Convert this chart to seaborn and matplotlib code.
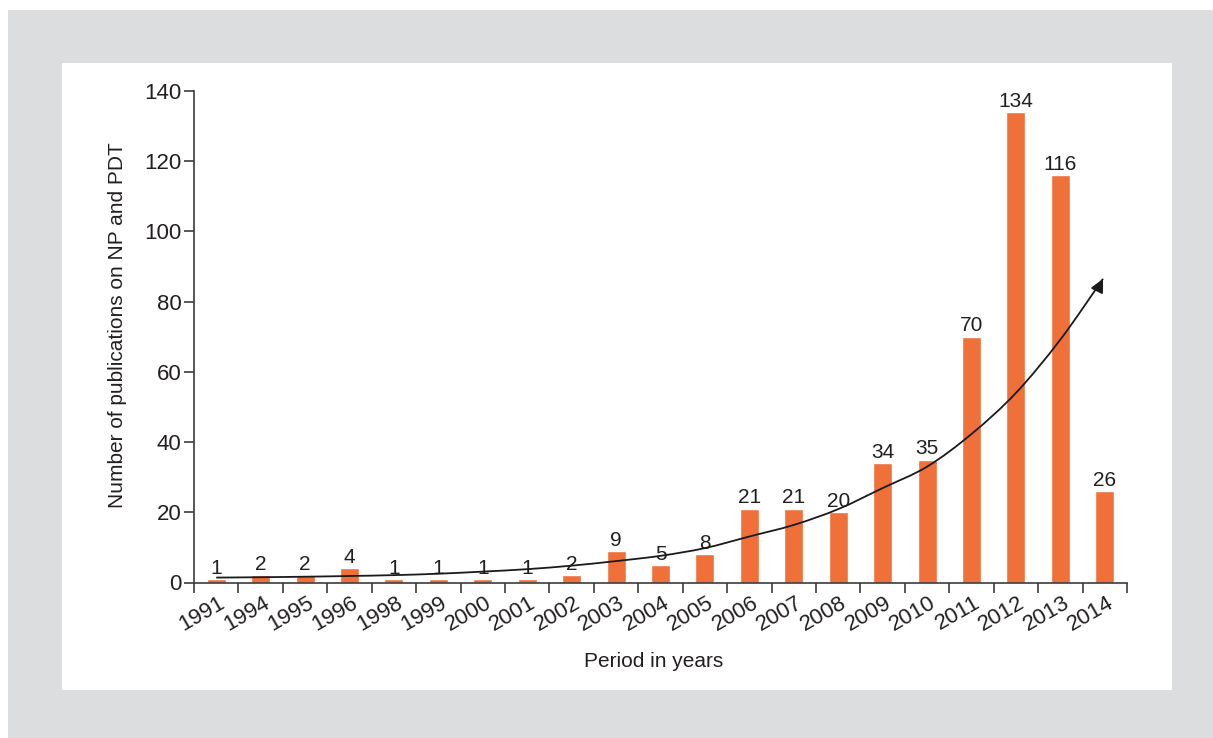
import matplotlib
matplotlib.use("Agg")
import matplotlib.pyplot as plt
import matplotlib.transforms as mtransforms
from matplotlib.patches import Rectangle, PathPatch
from matplotlib.path import Path
from matplotlib.ticker import FixedLocator, NullFormatter
import seaborn as sns
import pandas as pd

years = ["1991", "1994", "1995", "1996", "1998", "1999", "2000", "2001", "2002", "2003",
         "2004", "2005", "2006", "2007", "2008", "2009", "2010", "2011", "2012", "2013", "2014"]
counts = [1, 2, 2, 4, 1, 1, 1, 1, 2, 9, 5, 8, 21, 21, 20, 34, 35, 70, 134, 116, 26]

# hand-drawn trend arrow (x in category positions)
trend_x = [0, 1, 2, 3, 4, 5, 6, 7, 8, 9, 10, 11, 12, 13, 14, 15, 16, 17, 18, 19, 19.96]
trend_y = [1.4, 1.5, 1.65, 1.85, 2.1, 2.5, 3.1, 3.8, 4.8, 6.1, 7.6, 9.8, 13.1, 16.4,
           20.9, 26.9, 33.0, 42.3, 54.0, 69.2, 86.5]

y_ticks = [0, 20, 40, 60, 80, 100, 120, 140]

BAR = "#F0703A"
TXT = "#231F20"
AX = "#3C3C3C"
W, H = 1213, 738

sns.set_style("white")
plt.rcParams["font.family"] = ["Liberation Sans", "DejaVu Sans"]

fig = plt.figure(figsize=(W / 100, H / 100), dpi=100)
fig.patch.set_facecolor("white")
fig.add_artist(Rectangle((8 / W, 0), (W - 8) / W, (H - 10) / H,
                         transform=fig.transFigure, facecolor="#DCDDDF", edgecolor="none", zorder=-10))
fig.add_artist(Rectangle((62 / W, (H - 690) / H), (1172 - 62) / W, (690 - 63) / H,
                         transform=fig.transFigure, facecolor="white", edgecolor="none", zorder=-9))

ax = fig.add_axes([194 / W, (H - 582.5) / H, (1127 - 194) / W, (582.5 - 91) / H])
ax.patch.set_alpha(0)

df = pd.DataFrame({"year": years, "count": counts})
sns.barplot(data=df, x="year", y="count", order=years, color=BAR, width=0.43,
            saturation=1, ax=ax)

ax.bar_label(ax.containers[0], labels=[str(c) for c in counts], padding=1,
             fontsize=15, color=TXT)

ax.set_xlim(-0.5, len(years) - 0.5)
ax.set_ylim(0, 140)

# smooth curve through the read trend points (Catmull-Rom drawn as cubic Bezier, in display space)
pts = ax.transData.transform(list(zip(trend_x, trend_y)))
verts = [tuple(pts[0])]
codes = [Path.MOVETO]
n = len(pts)
for i in range(n - 1):
    p0 = pts[max(i - 1, 0)]
    p1 = pts[i]
    p2 = pts[i + 1]
    p3 = pts[min(i + 2, n - 1)]
    c1 = p1 + (p2 - p0) / 6.0
    c2 = p2 - (p3 - p1) / 6.0
    verts += [tuple(c1), tuple(c2), tuple(p2)]
    codes += [Path.CURVE4] * 3
curve = PathPatch(Path(verts, codes), transform=None, facecolor="none",
                  edgecolor="#1a1a1a", lw=1.3, zorder=5)
fig.add_artist(curve)
ax.annotate("", xy=(trend_x[-1], trend_y[-1]),
            xytext=(trend_x[-1] - 0.12, trend_y[-1] - 3.0),
            arrowprops=dict(arrowstyle="-|>", color="#1a1a1a", lw=1.3,
                            mutation_scale=20, shrinkA=0, shrinkB=0), zorder=6)

ax.set_yticks(y_ticks)
ax.set_yticklabels([str(t) for t in y_ticks], fontsize=16, color=TXT)

ax.xaxis.set_minor_locator(FixedLocator([i - 0.5 for i in range(len(years) + 1)]))
ax.xaxis.set_minor_formatter(NullFormatter())
ax.tick_params(axis="x", which="major", bottom=True, length=0, pad=7)
ax.tick_params(axis="x", which="minor", bottom=True, length=7, width=1.2, color=AX,
               direction="out")
ax.tick_params(axis="y", which="major", left=True, length=7, width=1.2, color=AX,
               direction="out", pad=2)
offset = mtransforms.ScaledTranslation(2 / 100, 0, fig.dpi_scale_trans)
for lab in ax.get_xticklabels():
    lab.set_rotation(30)
    lab.set_ha("right")
    lab.set_va("top")
    lab.set_rotation_mode("anchor")
    lab.set_fontsize(16)
    lab.set_color(TXT)
    lab.set_transform(lab.get_transform() + offset)

for s in ["top", "right"]:
    ax.spines[s].set_visible(False)
for s in ["left", "bottom"]:
    ax.spines[s].set_color(AX)
    ax.spines[s].set_linewidth(1.2)

ax.set_xlabel("Period in years", fontsize=15, color=TXT)
ax.set_ylabel("Number of publications on NP and PDT", fontsize=15, color=TXT)
ax.xaxis.set_label_coords(0.4925, -0.16)
ax.yaxis.set_label_coords(-0.0815, (582.5 - 325) / 491.5)
ax.xaxis.label.set_va("center")
ax.yaxis.label.set_va("center")

fig.savefig("out.png", dpi=100)
